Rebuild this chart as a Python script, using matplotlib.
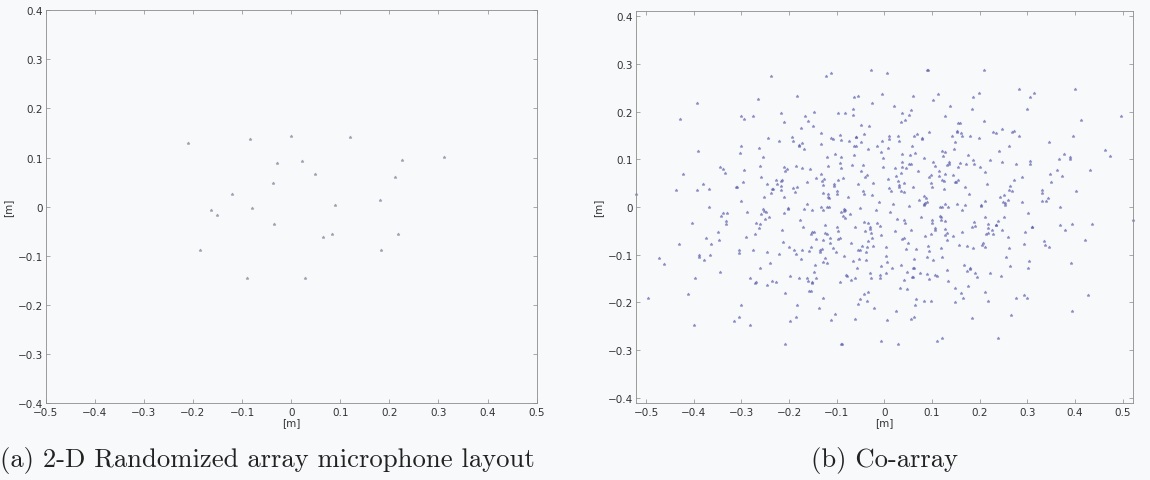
import numpy as np
import matplotlib
matplotlib.use("Agg")
import matplotlib.pyplot as plt

# microphone positions, in metres
mic_x = [-0.211, -0.083, 0.000, -0.028, 0.023, 0.049, -0.038, -0.121, -0.079,
         -0.163, -0.152, -0.035, 0.065, -0.186, -0.089, 0.028, 0.120, 0.226,
         0.311, 0.211, 0.180, 0.090, 0.083, 0.217, 0.183]
mic_y = [0.130, 0.137, 0.143, 0.089, 0.092, 0.067, 0.049, 0.025, -0.002,
         -0.006, -0.017, -0.035, -0.062, -0.088, -0.145, -0.145, 0.142, 0.094,
         0.102, 0.060, 0.013, 0.003, -0.055, -0.055, -0.089]

xticks = [-0.5, -0.4, -0.3, -0.2, -0.1, 0, 0.1, 0.2, 0.3, 0.4, 0.5]
yticks = [-0.4, -0.3, -0.2, -0.1, 0, 0.1, 0.2, 0.3, 0.4]
captions = ["(a) 2-D Randomized array microphone layout", "(b) Co-array"]

# co-array = all pairwise differences of the positions above
mx = np.array(mic_x)
my = np.array(mic_y)
dx = (mx[:, None] - mx[None, :])
dy = (my[:, None] - my[None, :])
off = ~np.eye(len(mx), dtype=bool)
co_x = dx[off]
co_y = dy[off]

bg = "#f8f9fb"
fig = plt.figure(figsize=(11.5, 4.81), dpi=100, facecolor=bg)

ax1 = fig.add_axes([0.0397, 0.1594, 0.427, 0.8177])
ax2 = fig.add_axes([0.5528, 0.1594, 0.4324, 0.8163])

ax1.plot(mx, my, "*", color="#a0a0ac", markersize=2.3, markeredgewidth=0.4)
ax2.plot(co_x, co_y, "*", color="#5a5ca8", markersize=2.3, markeredgewidth=0.4,
         alpha=0.6, clip_on=False)

ax1.set_xlim(-0.5, 0.5)
ax1.set_ylim(-0.4, 0.4)
ax2.set_xlim(-0.522, 0.522)
ax2.set_ylim(-0.412, 0.412)

for ax in (ax1, ax2):
    ax.set_facecolor(bg)
    ax.set_xticks(xticks)
    ax.set_yticks(yticks)
    ax.set_xticklabels([f"{t:g}".replace("-", "\u2212") for t in xticks])
    ax.set_yticklabels([f"{t:g}".replace("-", "\u2212") for t in yticks])
    ax.tick_params(direction="in", length=3, width=0.5, color="#888888",
                   labelsize=7.5, labelcolor="#333333", top=True, right=True, pad=2)
    ax.tick_params(axis="x", pad=3)
    for s in ax.spines.values():
        s.set_color("#8c8c8c")
        s.set_linewidth(0.6)
    ax.set_xlabel("[m]", fontsize=7.5, color="#333333", labelpad=0)
    ax.set_ylabel("[m]", fontsize=7.5, color="#333333", labelpad=3)

fig.text(0.0, 0.029, captions[0], family="cmr10", fontsize=19.2, color="#222222",
         ha="left", va="baseline")
fig.text(0.769, 0.029, captions[1], family="cmr10", fontsize=19.2, color="#222222",
         ha="center", va="baseline")

plt.savefig("out.png", dpi=100, facecolor=bg)
